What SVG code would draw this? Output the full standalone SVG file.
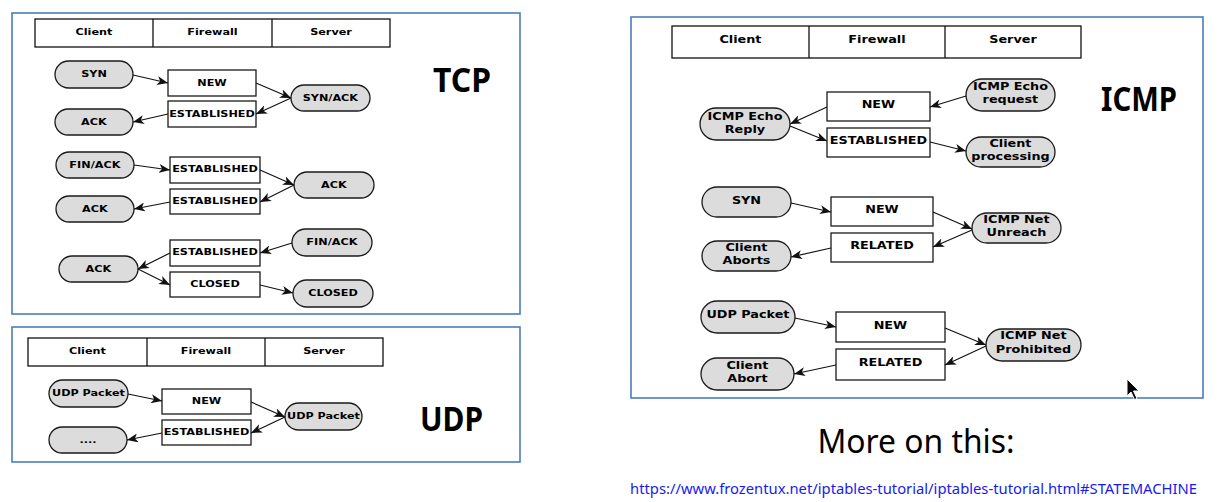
<svg xmlns="http://www.w3.org/2000/svg" width="1230" height="502" viewBox="0 0 1230 502">
<style>
.panel{fill:#fff;stroke:#4a7ebb;stroke-width:1.6}
.hdr{fill:#fff;stroke:#111;stroke-width:1.3}
.pill{fill:#dcdcdc;stroke:#1a1a1a;stroke-width:1.3}
.box{fill:#fff;stroke:#1a1a1a;stroke-width:1.3}
.t{font-family:"DejaVu Sans",sans-serif;font-weight:bold;font-size:9px;text-anchor:middle;fill:#000;transform-box:fill-box;transform-origin:center;transform:scaleX(1.25)}
.ti{font-family:"DejaVu Sans",sans-serif;font-weight:bold;font-size:10px;text-anchor:middle;fill:#000;transform-box:fill-box;transform-origin:center;transform:scaleX(1.28)}
.big{font-family:"Noto Sans","Open Sans",sans-serif;font-weight:bold;font-size:34px;fill:#000}
.c line{stroke:#111;stroke-width:1.2;marker-end:url(#ah)}
</style>
<defs>
<marker id="ah" markerUnits="userSpaceOnUse" markerWidth="11" markerHeight="9" refX="11" refY="4.5" orient="auto">
<path d="M0,0 L11,4.5 L0,9 L3,4.5 z" fill="#111"/>
</marker>
</defs>
<rect width="1230" height="502" fill="#fff"/>

<!-- TCP panel -->
<g id="tcp-panel">
<rect class="panel" x="12" y="13" width="508" height="301"/>
<rect class="hdr" x="35" y="19" width="355" height="28"/>
<line x1="153" y1="19" x2="153" y2="47" stroke="#111" stroke-width="1.3"/>
<line x1="272" y1="19" x2="272" y2="47" stroke="#111" stroke-width="1.3"/>
<text class="t" x="94" y="35.5">Client</text>
<text class="t" x="212.5" y="35.5">Firewall</text>
<text class="t" x="331" y="35.5">Server</text>
<text class="big" x="433" y="92" textLength="58" lengthAdjust="spacingAndGlyphs">TCP</text>
</g>
<g id="tcp-syn"><rect class="pill" x="55" y="61" width="78" height="27" rx="13.5"/><text class="t" x="94" y="77.5">SYN</text></g>
<g id="tcp-new1"><rect class="box" x="168" y="70" width="88" height="26"/><text class="t" x="212" y="86">NEW</text></g>
<g id="tcp-est1"><rect class="box" x="168" y="101" width="88" height="26"/><text class="t" x="212" y="117">ESTABLISHED</text></g>
<g id="tcp-synack"><rect class="pill" x="291" y="85" width="79" height="26" rx="13"/><text class="t" x="330.5" y="101">SYN/ACK</text></g>
<g id="tcp-ack1"><rect class="pill" x="55" y="109" width="78" height="26" rx="13"/><text class="t" x="94" y="125">ACK</text></g>

<g id="tcp-finack1"><rect class="pill" x="56" y="152" width="78" height="26" rx="13"/><text class="t" x="95" y="168">FIN/ACK</text></g>
<g id="tcp-est2"><rect class="box" x="170" y="157" width="90" height="26"/><text class="t" x="215" y="172.5">ESTABLISHED</text></g>
<g id="tcp-est3"><rect class="box" x="170" y="189" width="90" height="25"/><text class="t" x="215" y="204">ESTABLISHED</text></g>
<g id="tcp-ack2"><rect class="pill" x="294" y="172" width="80" height="26" rx="13"/><text class="t" x="334" y="188">ACK</text></g>
<g id="tcp-ack3"><rect class="pill" x="56" y="196" width="78" height="26" rx="13"/><text class="t" x="95" y="212">ACK</text></g>

<g id="tcp-finack2"><rect class="pill" x="292" y="229" width="80" height="27" rx="13.5"/><text class="t" x="332" y="245.5">FIN/ACK</text></g>
<g id="tcp-est4"><rect class="box" x="170" y="240" width="90" height="26"/><text class="t" x="215" y="255.5">ESTABLISHED</text></g>
<g id="tcp-ack4"><rect class="pill" x="59" y="256" width="79" height="26" rx="13"/><text class="t" x="98.5" y="272">ACK</text></g>
<g id="tcp-closed-box"><rect class="box" x="170" y="272" width="90" height="25"/><text class="t" x="215" y="287">CLOSED</text></g>
<g id="tcp-closed-pill"><rect class="pill" x="293" y="280" width="80" height="27" rx="13.5"/><text class="t" x="333" y="296.5">CLOSED</text></g>

<!-- UDP panel -->
<g id="udp-panel">
<rect class="panel" x="12" y="327" width="508" height="135"/>
<rect class="hdr" x="28" y="338" width="355" height="28"/>
<line x1="147" y1="338" x2="147" y2="366" stroke="#111" stroke-width="1.3"/>
<line x1="265" y1="338" x2="265" y2="366" stroke="#111" stroke-width="1.3"/>
<text class="t" x="87.5" y="354">Client</text>
<text class="t" x="206" y="354">Firewall</text>
<text class="t" x="324" y="354">Server</text>
<text class="big" x="420" y="431" textLength="63" lengthAdjust="spacingAndGlyphs">UDP</text>
</g>
<g id="udp-pkt1"><rect class="pill" x="49" y="380" width="79" height="27" rx="13.5"/><text class="t" x="88.5" y="396.5">UDP Packet</text></g>
<g id="udp-new"><rect class="box" x="162" y="389" width="89" height="25"/><text class="t" x="206.5" y="404">NEW</text></g>
<g id="udp-est"><rect class="box" x="162" y="420" width="89" height="25"/><text class="t" x="206.5" y="435">ESTABLISHED</text></g>
<g id="udp-pkt2"><rect class="pill" x="285" y="403" width="77" height="27" rx="13.5"/><text class="t" x="323.5" y="419.5">UDP Packet</text></g>
<g id="udp-dots"><rect class="pill" x="49" y="427" width="78" height="26" rx="13"/><text class="t" x="88" y="443">....</text></g>

<!-- ICMP panel -->
<g id="icmp-panel">
<rect class="panel" x="631" y="17" width="572" height="381"/>
<rect class="hdr" x="672" y="26" width="409" height="32"/>
<line x1="809" y1="26" x2="809" y2="58" stroke="#111" stroke-width="1.3"/>
<line x1="945" y1="26" x2="945" y2="58" stroke="#111" stroke-width="1.3"/>
<text class="ti" x="740.5" y="43.5">Client</text>
<text class="ti" x="877" y="43.5">Firewall</text>
<text class="ti" x="1013" y="43.5">Server</text>
<text class="big" x="1101" y="111" textLength="76" lengthAdjust="spacingAndGlyphs">ICMP</text>
</g>
<g id="icmp-echo-reply"><rect class="pill" x="700" y="108" width="90" height="32" rx="16"/><text class="ti" x="745" y="120">ICMP Echo</text><text class="ti" x="745" y="133">Reply</text></g>
<g id="icmp-new1"><rect class="box" x="827" y="92" width="103" height="29"/><text class="ti" x="878.5" y="108">NEW</text></g>
<g id="icmp-est"><rect class="box" x="827" y="128" width="103" height="29"/><text class="ti" x="878.5" y="144">ESTABLISHED</text></g>
<g id="icmp-echo-req"><rect class="pill" x="966" y="79" width="89" height="32" rx="16"/><text class="ti" x="1010.5" y="90">ICMP Echo</text><text class="ti" x="1010.5" y="103">request</text></g>
<g id="icmp-client-proc"><rect class="pill" x="966" y="137" width="89" height="30" rx="15"/><text class="ti" x="1010.5" y="147">Client</text><text class="ti" x="1010.5" y="160.5">processing</text></g>

<g id="icmp-syn"><rect class="pill" x="702" y="187" width="89" height="30" rx="15"/><text class="ti" x="746.5" y="204">SYN</text></g>
<g id="icmp-new2"><rect class="box" x="831" y="197" width="102" height="29"/><text class="ti" x="882" y="213">NEW</text></g>
<g id="icmp-unreach"><rect class="pill" x="972" y="213" width="89" height="30" rx="15"/><text class="ti" x="1016.5" y="223.5">ICMP Net</text><text class="ti" x="1016.5" y="236.5">Unreach</text></g>
<g id="icmp-related1"><rect class="box" x="831" y="233" width="102" height="29"/><text class="ti" x="882" y="249">RELATED</text></g>
<g id="icmp-client-aborts"><rect class="pill" x="702" y="241" width="89" height="30" rx="15"/><text class="ti" x="746.5" y="251">Client</text><text class="ti" x="746.5" y="264.5">Aborts</text></g>

<g id="icmp-udp"><rect class="pill" x="701" y="301" width="94" height="32" rx="16"/><text class="ti" x="748" y="318.5">UDP Packet</text></g>
<g id="icmp-new3"><rect class="box" x="836" y="312" width="109" height="30"/><text class="ti" x="890.5" y="329">NEW</text></g>
<g id="icmp-prohib"><rect class="pill" x="986" y="329" width="95" height="32" rx="16"/><text class="ti" x="1033.5" y="339.5">ICMP Net</text><text class="ti" x="1033.5" y="353">Prohibited</text></g>
<g id="icmp-related2"><rect class="box" x="836" y="349" width="109" height="31"/><text class="ti" x="890.5" y="366">RELATED</text></g>
<g id="icmp-client-abort"><rect class="pill" x="701" y="358" width="93" height="32" rx="16"/><text class="ti" x="747.5" y="369">Client</text><text class="ti" x="747.5" y="382.5">Abort</text></g>

<g id="connectors" class="c">
<line x1="133" y1="75" x2="168" y2="83"/>
<line x1="256" y1="83" x2="291" y2="98"/>
<line x1="291" y1="98" x2="256" y2="114"/>
<line x1="168" y1="114" x2="133" y2="122"/>
<line x1="134" y1="165" x2="170" y2="170"/>
<line x1="260" y1="170" x2="294" y2="185"/>
<line x1="294" y1="185" x2="260" y2="202"/>
<line x1="170" y1="202" x2="134" y2="209"/>
<line x1="292" y1="243" x2="260" y2="253"/>
<line x1="170" y1="253" x2="138" y2="269"/>
<line x1="138" y1="269" x2="170" y2="285"/>
<line x1="260" y1="285" x2="293" y2="293"/>
<line x1="128" y1="394" x2="162" y2="401"/>
<line x1="251" y1="402" x2="285" y2="417"/>
<line x1="285" y1="417" x2="251" y2="433"/>
<line x1="162" y1="433" x2="127" y2="440"/>
<line x1="966" y1="96" x2="930" y2="107"/>
<line x1="827" y1="107" x2="790" y2="124"/>
<line x1="790" y1="126" x2="827" y2="141"/>
<line x1="930" y1="142" x2="966" y2="151"/>
<line x1="791" y1="203" x2="831" y2="212"/>
<line x1="933" y1="212" x2="972" y2="229"/>
<line x1="972" y1="230" x2="933" y2="247"/>
<line x1="831" y1="248" x2="791" y2="257"/>
<line x1="795" y1="318" x2="836" y2="327"/>
<line x1="945" y1="328" x2="986" y2="345"/>
<line x1="986" y1="346" x2="945" y2="365"/>
<line x1="836" y1="365" x2="794" y2="374"/>
</g>

<text x="916" y="453" font-family="Noto Sans, sans-serif" font-size="33" fill="#000" text-anchor="middle" textLength="197" lengthAdjust="spacingAndGlyphs">More on this:</text>
<text x="630" y="494" font-family="Noto Sans, sans-serif" font-size="14.5" fill="#1a1aee" textLength="567" lengthAdjust="spacingAndGlyphs">https://www.frozentux.net/iptables-tutorial/iptables-tutorial.html#STATEMACHINE</text>

<path d="M1127,379 L1127,396 L1131,392 L1134.5,399.5 L1137,398.5 L1133.5,391 L1139,391 Z" fill="#000" stroke="#fff" stroke-width="1"/>
</svg>
